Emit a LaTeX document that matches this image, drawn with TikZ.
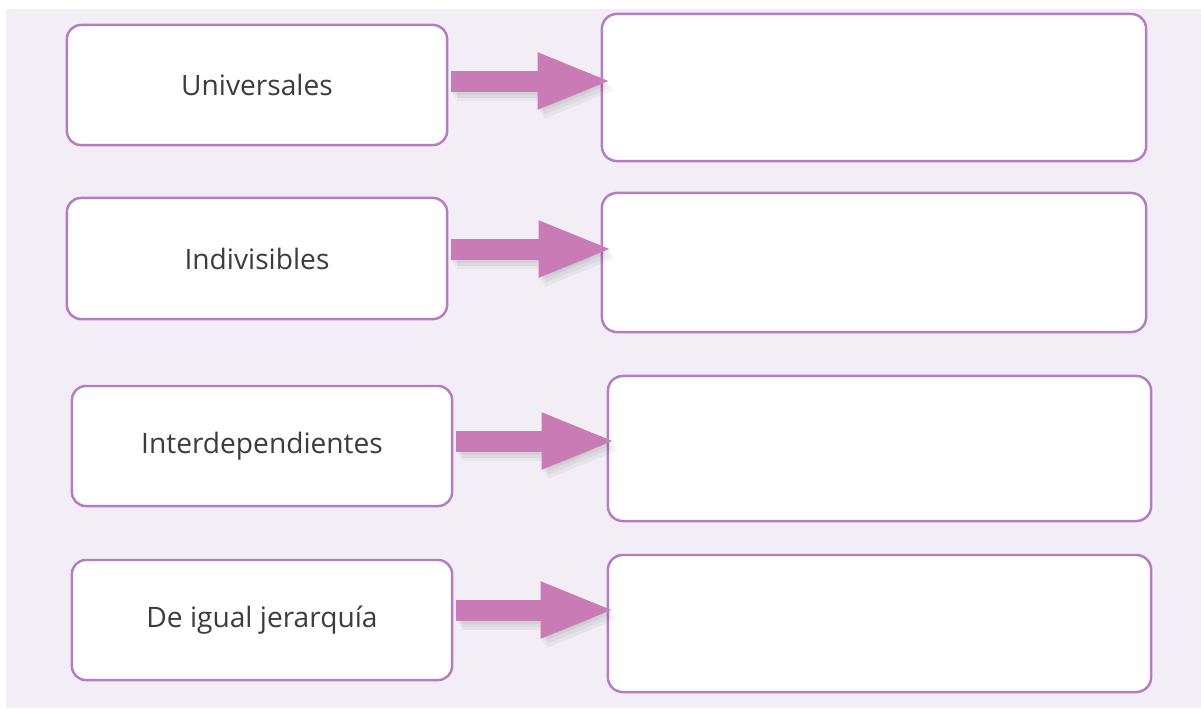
\documentclass[tikz,border=0pt]{standalone}
\usepackage{fontspec}
\setmainfont{Open Sans}
\usetikzlibrary{calc}
\usetikzlibrary{arrows.meta}
\definecolor{bgpanel}{HTML}{F3EEF6}
\definecolor{boxline}{HTML}{B57DC1}
\definecolor{arrowfill}{HTML}{C87BB4}
\definecolor{termtext}{HTML}{3C3C3C}
\tikzset{
  term/.style={draw=boxline, line width=0.7pt, fill=white, rounded corners=0.14cm,
    font=\fontsize{8pt}{10pt}\selectfont, text=termtext, inner sep=0pt},
  blank/.style={draw=boxline, line width=0.7pt, fill=white, rounded corners=0.15cm, inner sep=0pt},
  fatarrow/.style={draw=arrowfill, line width=0.21cm, -{Triangle[length=0.75cm,width=0.51cm]},
    shorten <=0.03cm},
  fatshade/.style={fatarrow, draw=black, opacity=0.045, transform canvas={shift={(#1)}}}
}
\newcommand{\termbox}[6]{\node[term, minimum width=#4cm, minimum height=#5cm] (#1) at (#2,#3) {#6};}
\newcommand{\blankbox}[5]{\node[blank, minimum width=#4cm, minimum height=#5cm] (#1) at (#2,#3) {};}
\newcommand{\shadearrow}[2]{
  \draw[fatshade={0.02cm,-0.03cm}] (#1) -- (#2);
  \draw[fatshade={0.04cm,-0.06cm}] (#1) -- (#2);
  \draw[fatshade={0.06cm,-0.09cm}] (#1) -- (#2);}

\begin{document}
\begin{tikzpicture}[x=0.01cm, y=-0.01cm]
        \useasboundingbox (0,0) rectangle (1201,708);
        \fill[bgpanel] (6,9) rectangle (1201,708);

        % left column
        \termbox{uni}{257}{85}{3.80}{1.20}{Universales}
        \termbox{ind}{257}{258.5}{3.80}{1.21}{Indivisibles}
        \termbox{inter}{262}{446}{3.80}{1.20}{Interdependientes}
        \termbox{igual}{262}{620}{3.80}{1.20}{De igual jerarquía}

        % right column
        \blankbox{uniA}{874}{87.5}{5.44}{1.47}
        \blankbox{indA}{874}{262.5}{5.44}{1.39}
        \blankbox{interA}{879.5}{448.5}{5.43}{1.45}
        \blankbox{igualA}{879.5}{623.5}{5.43}{1.37}

        % arrow starts and tips
        \coordinate (a1) at ($(uni.east)+(0,-4)$);
        \coordinate (a2) at ($(ind.east)+(0,-9.5)$);
        \coordinate (a3) at ($(inter.east)+(0,-5)$);
        \coordinate (a4) at ($(igual.east)+(0,-10)$);
        \coordinate (b1) at ($(a1 -| uniA.west)+(12,0)$);
        \coordinate (b2) at ($(a2 -| indA.west)+(13,0)$);
        \coordinate (b3) at ($(a3 -| interA.west)+(10,0)$);
        \coordinate (b4) at ($(a4 -| igualA.west)+(9,0)$);

        % shadows
        \shadearrow{a1}{b1}
        \shadearrow{a2}{b2}
        \shadearrow{a3}{b3}
        \shadearrow{a4}{b4}

        % arrows
        \draw[fatarrow] (a1) -- (b1);
        \draw[fatarrow] (a2) -- (b2);
        \draw[fatarrow] (a3) -- (b3);
        \draw[fatarrow] (a4) -- (b4);
\end{tikzpicture}
\end{document}
